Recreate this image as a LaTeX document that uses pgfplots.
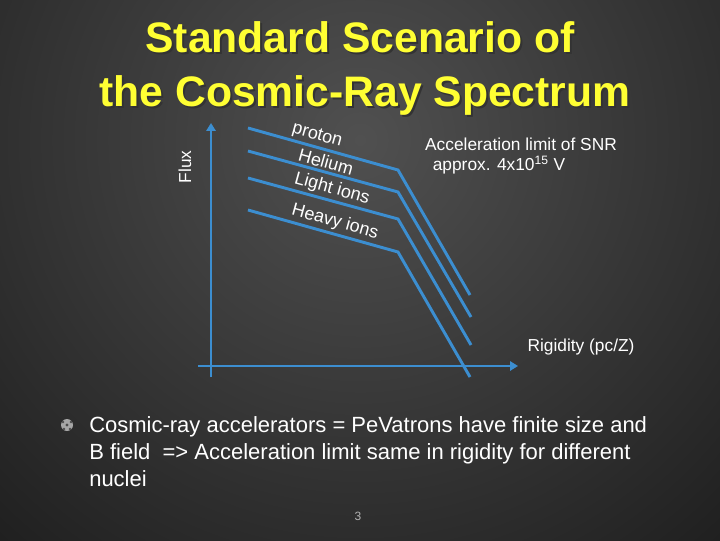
\documentclass[border=0pt]{standalone}
\usepackage{pgfplots}
\pgfplotsset{compat=1.18}
\usepackage{fontspec}
\setmainfont{Liberation Sans}
\usetikzlibrary{arrows.meta}
\definecolor{lineblue}{HTML}{3C8ED0}
\definecolor{titleyellow}{HTML}{FFFF33}
\definecolor{bgin}{HTML}{505050}
\definecolor{bgout}{HTML}{1E1E1E}
\begin{document}
\begin{tikzpicture}
\begin{scope}
\clip (0,0) rectangle (540pt,405pt);
\fill[bgout] (0,0) rectangle (540pt,405pt);
\shade[inner color=bgin, outer color=bgout] (270pt,300pt) circle (420pt);
\end{scope}
\begin{axis}[
  scale only axis, width=540pt, height=405pt,
  xmin=0, xmax=720, ymin=0, ymax=540,
  hide axis, clip=false,
]
% axes arrows
\addplot[lineblue, line width=2.2pt, -{Triangle[width=7pt,length=6pt]}] coordinates {(211,163) (211,417)};
\addplot[lineblue, line width=2.2pt, -{Triangle[width=7pt,length=6pt]}] coordinates {(198,174) (518,174)};
% spectra
\addplot[lineblue, line width=2.2pt] coordinates {(248,412) (398,370) (470,245)};
\addplot[lineblue, line width=2.2pt] coordinates {(248,389) (398,348) (471,223)};
\addplot[lineblue, line width=2.2pt] coordinates {(248,362) (398,321) (471,195)};
\addplot[lineblue, line width=2.2pt] coordinates {(248,330) (398,288) (470,163)};
% labels on lines
\node[white, rotate=-15.6, inner sep=0pt, font=\fontsize{13.5}{16}\selectfont] at (axis cs:317,404) {proton};
\node[white, rotate=-15.6, inner sep=0pt, font=\fontsize{13.5}{16}\selectfont] at (axis cs:326,378) {Helium};
\node[white, rotate=-15.6, inner sep=0pt, font=\fontsize{13.5}{16}\selectfont] at (axis cs:332,351) {Light ions};
\node[white, rotate=-15.6, inner sep=0pt, font=\fontsize{13.5}{16}\selectfont] at (axis cs:335,318) {Heavy ions};
% axis labels
\node[white, rotate=90, font=\fontsize{13}{15}\selectfont] at (axis cs:185,373) {Flux};
\node[white, font=\fontsize{13}{15}\selectfont] at (axis cs:581,193) {Rigidity (pc/Z)};
\node[white, font=\fontsize{13}{15}\selectfont] at (axis cs:521,396) {Acceleration limit of SNR};
\node[white, font=\fontsize{13}{15}\selectfont] at (axis cs:499,375) {approx. 4x10\textsuperscript{15} V};
% title
\node[black!80, font=\bfseries\fontsize{32}{40}\selectfont, anchor=base] at (axis cs:362,485) {Standard Scenario of};
\node[black!80, font=\bfseries\fontsize{32}{40}\selectfont, anchor=base] at (axis cs:367,431) {the Cosmic-Ray Spectrum};
\node[titleyellow, font=\bfseries\fontsize{32}{40}\selectfont, anchor=base] at (axis cs:360,487) {Standard Scenario of};
\node[titleyellow, font=\bfseries\fontsize{32}{40}\selectfont, anchor=base] at (axis cs:365,433) {the Cosmic-Ray Spectrum};
% bullet
\fill[gray!70] (axis cs:67,115) circle (4.5pt);
\fill[black!70] (axis cs:67,115) circle (1.3pt);
\fill[black!70] (axis cs:63,118) circle (1pt);
\fill[black!70] (axis cs:71,118) circle (1pt);
\fill[black!70] (axis cs:64,111) circle (1pt);
\fill[black!70] (axis cs:70,111) circle (1pt);
% body text
\node[white, font=\fontsize{16.5}{20}\selectfont, anchor=base west, inner sep=0pt] at (axis cs:89,108) {Cosmic-ray accelerators = PeVatrons have finite size and};
\node[white, font=\fontsize{16.5}{20}\selectfont, anchor=base west, inner sep=0pt] at (axis cs:89,81) {B field\ \ => Acceleration limit same in rigidity for different};
\node[white, font=\fontsize{16.5}{20}\selectfont, anchor=base west, inner sep=0pt] at (axis cs:89,54) {nuclei};
% page number
\node[gray!60!white, font=\fontsize{9}{10}\selectfont] at (axis cs:358,24) {3};
\end{axis}
\end{tikzpicture}
\end{document}
